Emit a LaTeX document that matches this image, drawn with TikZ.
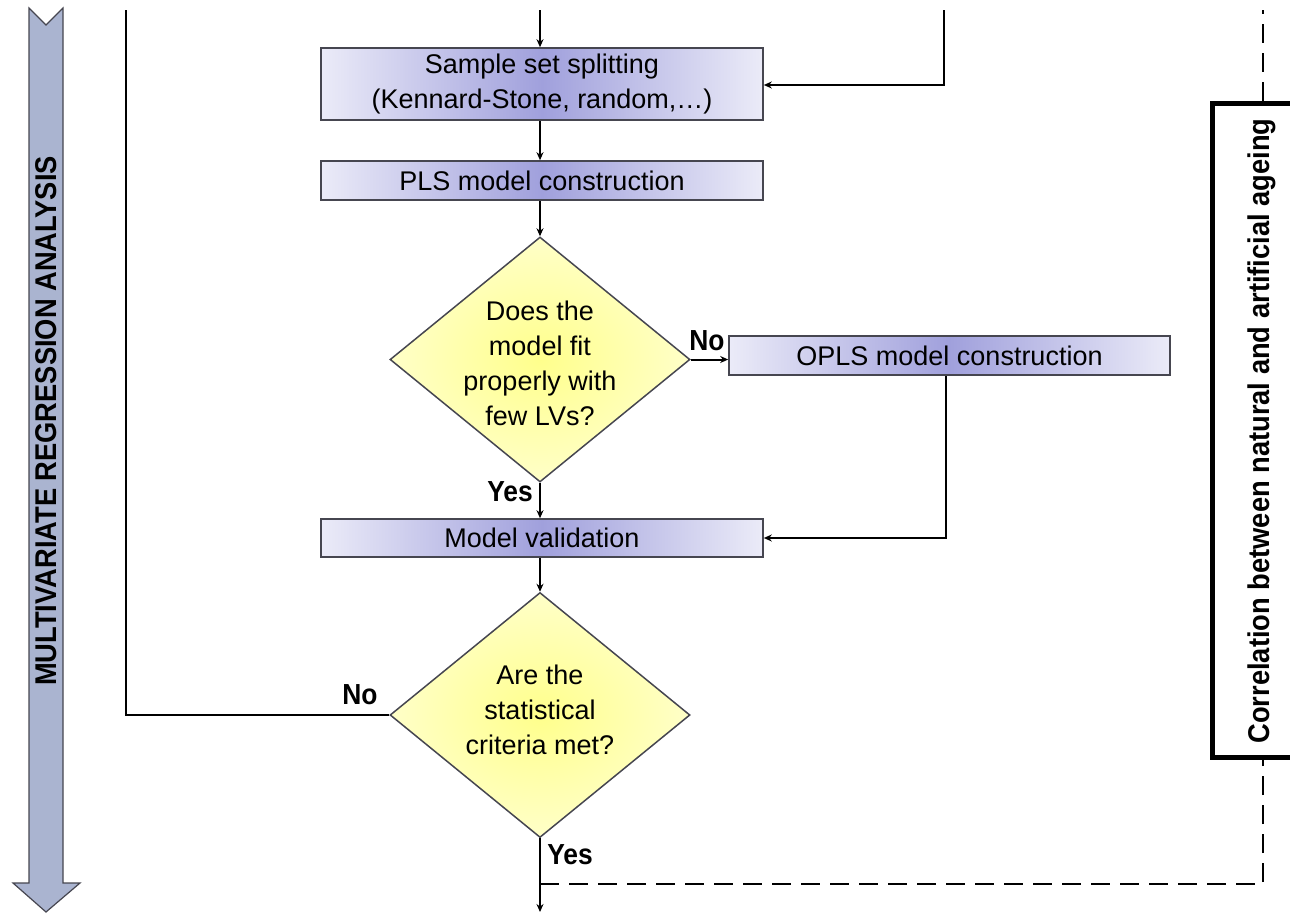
\documentclass[tikz,border=0pt]{standalone}
\usepackage{fontspec}
\setmainfont{Liberation Sans}
\newfontfamily\narrowbold[FakeStretch=0.91]{Liberation Sans Bold}
\usetikzlibrary{arrows.meta,shapes.geometric}

\definecolor{boxedge}{RGB}{235,235,248}
\definecolor{boxmid}{RGB}{160,160,220}
\definecolor{boxline}{RGB}{70,70,80}
\definecolor{qinner}{RGB}{255,255,140}
\definecolor{qouter}{RGB}{255,255,200}
\definecolor{bandfill}{RGB}{170,180,208}

\tikzset{
  flow/.style={line width=2pt, draw=black},
  arr/.style={flow, -{Stealth[length=8pt,width=7pt]}},
  stepbox/.style={draw=boxline, line width=1.6pt, left color=boxedge, right color=boxedge,
    middle color=boxmid, minimum width=442pt, inner sep=0pt, align=center,
    font=\fontsize{27}{35}\selectfont},
  question/.style={shape=diamond, draw=boxline, line width=1.5pt, inner color=qinner,
    outer color=qouter, inner sep=0pt, minimum width=300pt, minimum height=245pt},
  qtext/.style={align=center, font=\fontsize{27}{35}\selectfont},
  tag/.style={font=\narrowbold\fontsize{29}{32}\selectfont, inner sep=0pt},
  sidetext/.style={font=\narrowbold\fontsize{30}{32}\selectfont, inner sep=0pt, rotate=90},
  corr/.style={dash pattern=on 19pt off 10pt, line width=2.5pt},
}

\begin{document}
\begin{tikzpicture}[x=1pt,y=-1pt]
\useasboundingbox (0,0) rectangle (1290,913);

% phase band on the left
\path[draw=boxline, line width=1.2pt, fill=bandfill]
  (29,8) -- (46,25) -- (63,8) -- (63,883) -- (80,883) -- (46,912)
  -- (13,883) -- (29,883) -- cycle;
\node[sidetext] (band) at (46,421) {MULTIVARIATE REGRESSION ANALYSIS};

% process steps
\node[stepbox, minimum height=72pt] (split) at (542,84)
  {Sample set splitting\\(Kennard-Stone, random,\dots)};
\node[stepbox, minimum height=39pt] (pls) at (542,180.5) {PLS model construction};
\node[question] (fit) at (540,359.5) {};
\node[qtext] (fittext) at (540,363) {Does the\\model fit\\properly with\\few LVs?};
\node[stepbox, minimum width=441pt, minimum height=39pt] (opls) at (949.5,355.5)
  {OPLS model construction};
\node[stepbox, minimum height=38pt] (valid) at (542,538) {Model validation};
\node[question] (crit) at (540,715) {};
\node[qtext] (crittext) at (540,710) {Are the\\statistical\\criteria met?};

% side frame on the right
\node[draw=black, line width=5pt, minimum width=100pt, minimum height=654pt,
  inner sep=0pt] (frame) at (1262,430) {};
\node[sidetext] (frametext) at (1262,431)
  {Correlation between natural and artificial ageing};

% free ends of the connectors
\coordinate (inA) at (540,10);
\coordinate (inB) at (944,10);
\coordinate (inBc) at (944,85);
\coordinate (loopTop) at (126,10);
\coordinate (loopCorner) at (126,715);
\coordinate (oplsCorner) at (946,538);
\coordinate (out) at (540,912);
\coordinate (dashStart) at (540,884);
\coordinate (dashCorner) at (1263,884);
\coordinate (dashTop) at (1263,10);

% connectors
\draw[arr] (inA) -- (split.north -| inA);
\draw[arr] (inB) -- (inBc) -- (split.east |- inBc);
\draw[arr] (split.south -| inA) -- (pls.north -| inA);
\draw[arr] (pls.south -| inA) -- (fit.north);
\draw[arr] (fit.east) -- (opls.west |- fit.east);
\draw[arr] (fit.south) -- (valid.north -| fit.south);
\draw[arr] (opls.south -| oplsCorner) -- (oplsCorner) -- (valid.east |- oplsCorner);
\draw[arr] (valid.south -| crit.north) -- (crit.north);
\draw[flow] (crit.west) -- (loopCorner) -- (loopTop);
\draw[arr] (crit.south) -- (out);
\draw[corr] (dashStart) -- (dashCorner) -- (frame.south -| dashCorner);
\draw[corr] (frame.north -| dashTop) -- (dashTop);

% branch labels
\node[tag] (noFit) at (707,341) {No};
\node[tag] (yesFit) at (510,492) {Yes};
\node[tag] (noCrit) at (360,695) {No};
\node[tag] (yesCrit) at (570,855) {Yes};
\end{tikzpicture}
\end{document}
